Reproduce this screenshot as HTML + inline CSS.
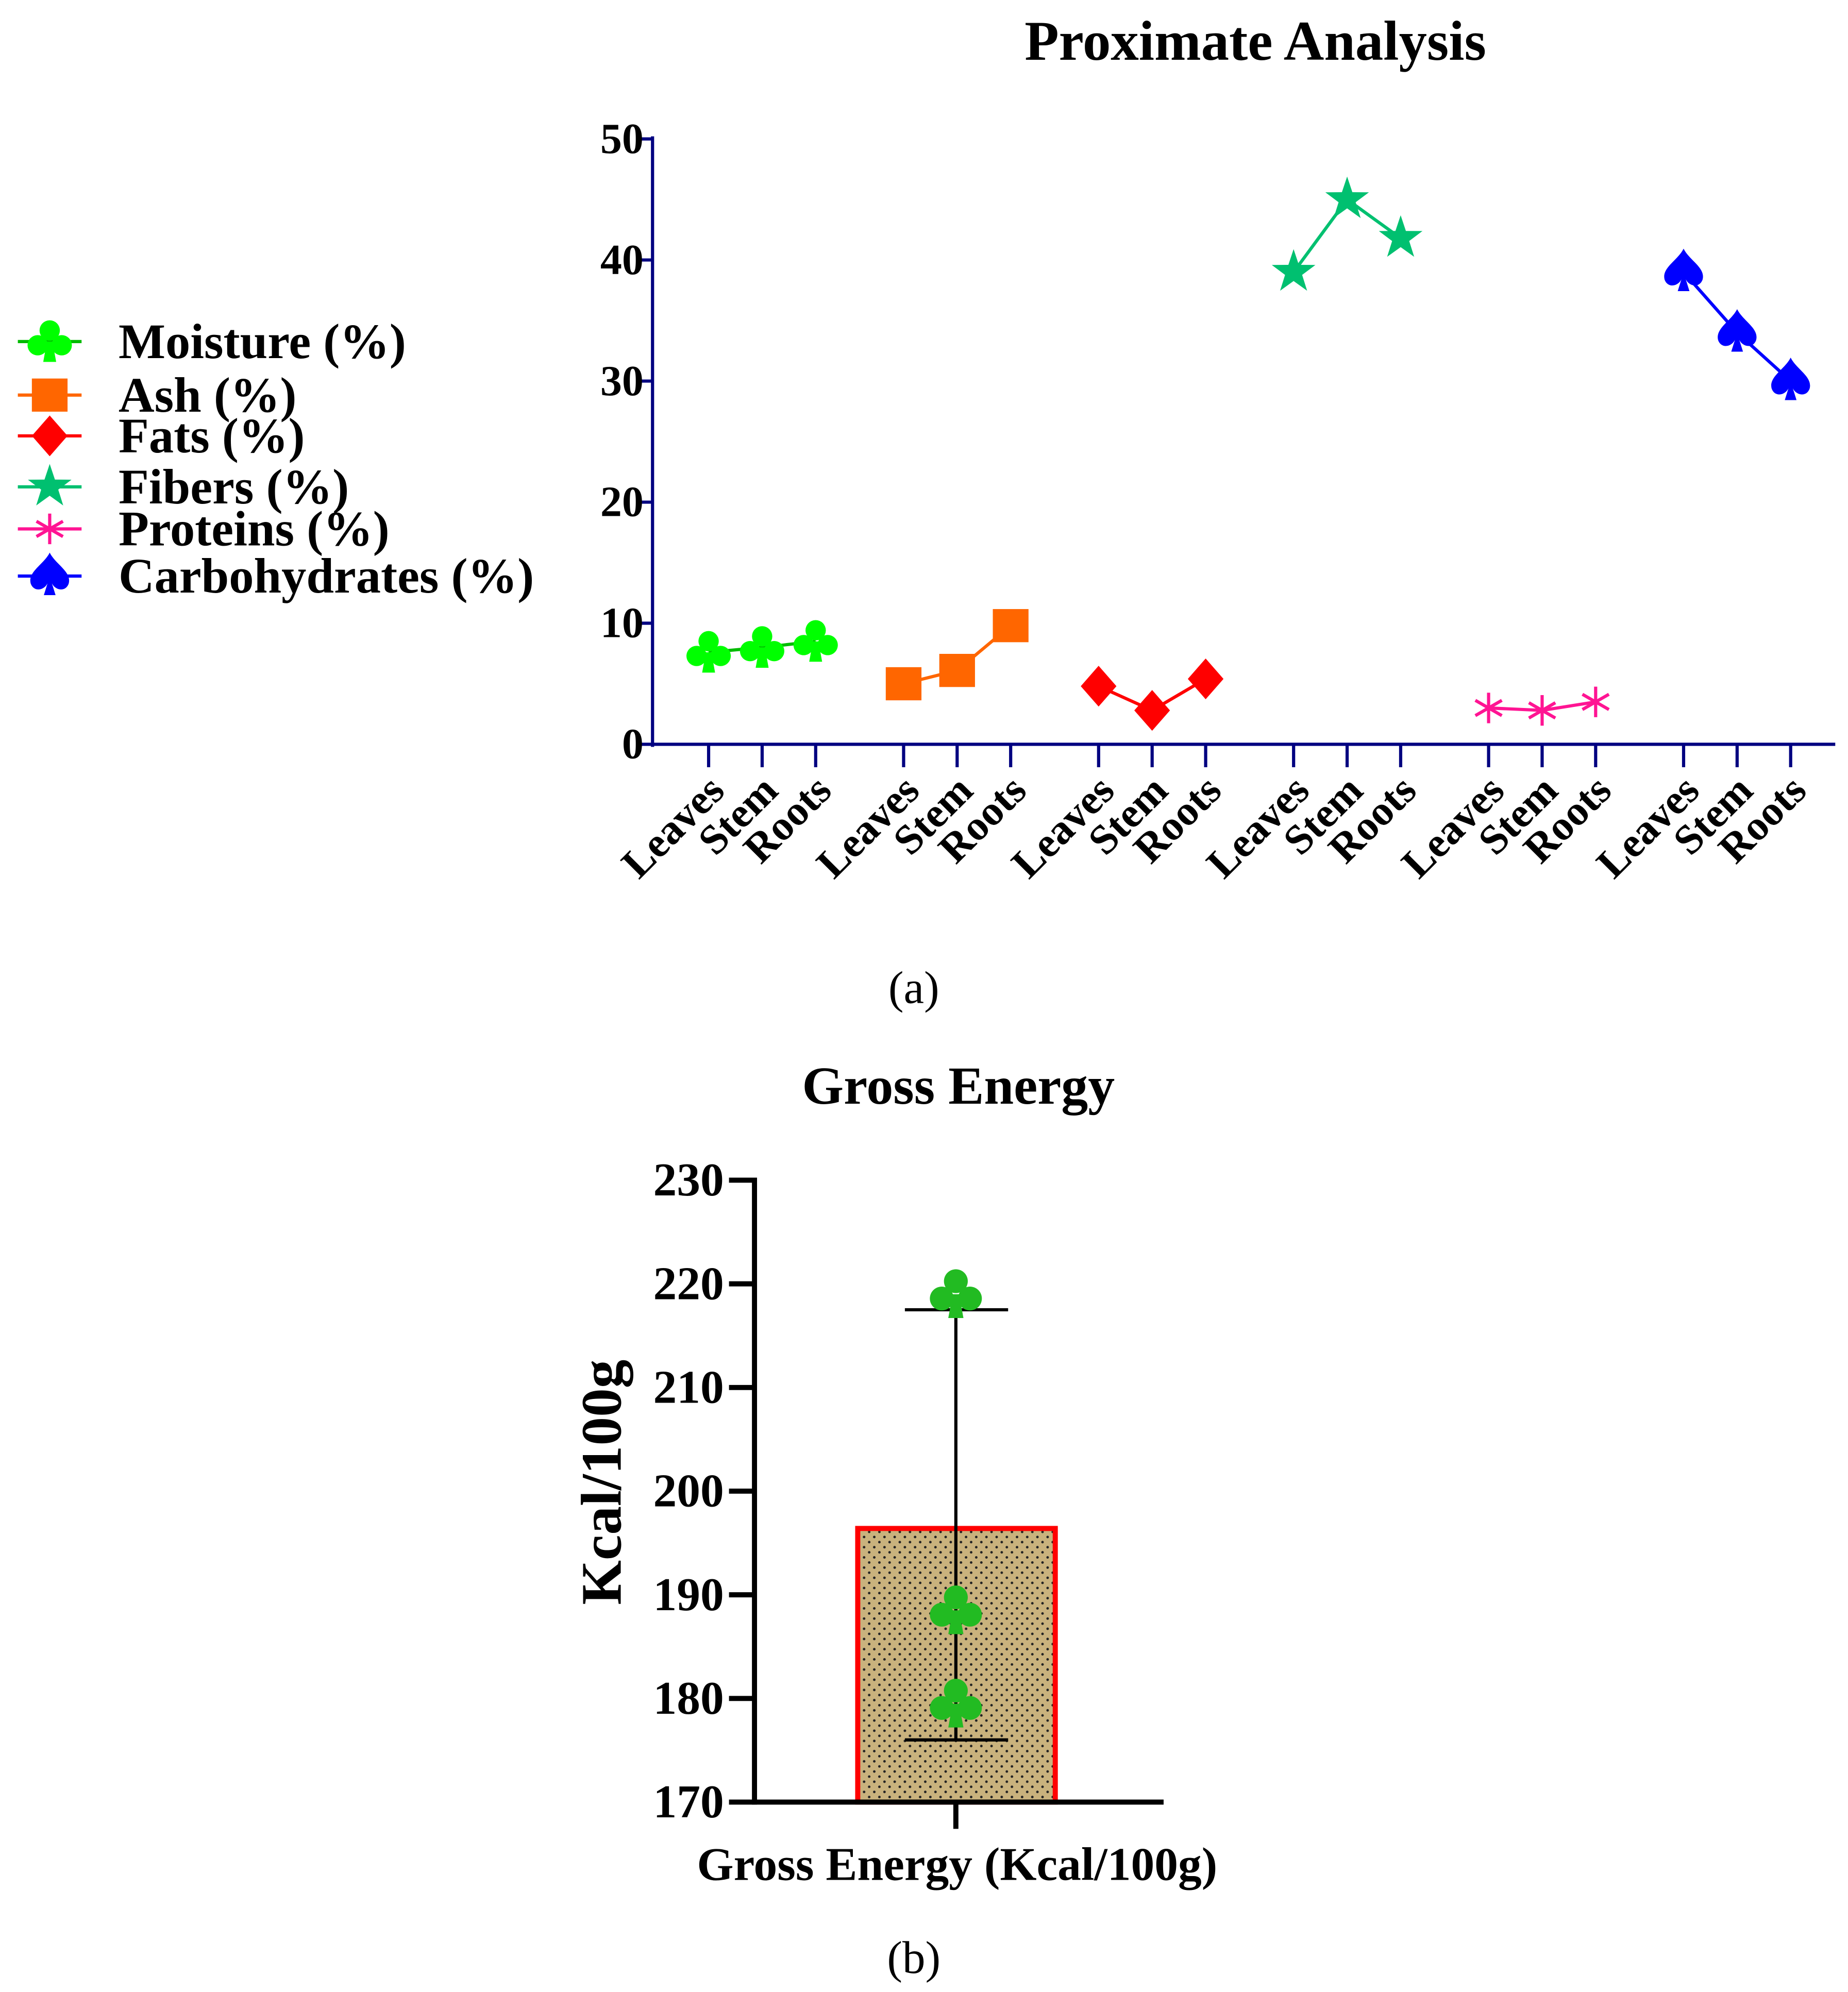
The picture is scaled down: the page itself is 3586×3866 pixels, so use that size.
<!DOCTYPE html>
<html><head><meta charset="utf-8"><style>
html,body{margin:0;padding:0;background:#fff}
svg{display:block}
text{font-family:"Liberation Serif",serif;font-weight:bold;fill:#000}
</style></head><body>
<svg id="root" width="3586" height="3866" viewBox="0 0 1450 1563" preserveAspectRatio="none" xmlns="http://www.w3.org/2000/svg">
<defs>
<pattern id="dots" width="8" height="8" patternUnits="userSpaceOnUse">
<rect width="8" height="8" fill="#c9b27d"/><circle cx="2" cy="2" r="1" fill="#222"/><circle cx="6" cy="6" r="1" fill="#222"/>
</pattern>
</defs>
<g id="topchart"></g>
<g id="botchart"></g>
</svg>
<script>
const parts = ["Leaves","Stem","Roots"];
const seriesNames = ["Moisture (%)","Ash (%)","Fats (%)","Fibers (%)","Proteins (%)","Carbohydrates (%)"];
const moisture = [7.6, 8.0, 8.5];
const ash = [5.0, 6.1, 9.8];
const fats = [4.8, 2.8, 5.4];
const fibers = [39.0, 45.0, 41.8];
const proteins = [3.0, 2.8, 3.5];
const carbs = [39.0, 34.0, 30.0];
const yTicks = [0,10,20,30,40,50];
const energyTicks = [170,180,190,200,210,220,230];
const energyMean = 196.4;
const energyMax = 217.5;
const energyMin = 176.0;
const energyPoints = [219.0, 188.5, 179.5];

const NS="http://www.w3.org/2000/svg";
function mk(tag,attrs,parent){const e=document.createElementNS(NS,tag);for(const k in attrs)e.setAttribute(k,attrs[k]);parent.appendChild(e);return e;}
const topG=document.getElementById('topchart'), botG=document.getElementById('botchart');

const yT=v=>584-v*9.5;
const xT=(g,i)=>556+g*153+i*42;
const colors=["#00ff00","#ff6600","#ff0000","#00c070","#ff1493","#0000ff"];
const lineColors=["#00bb00","#ff6600","#ff0000","#00c070","#ff1493","#0000ff"];
const shapes=["club","square","diamond","star","asterisk","spade"];
const scales=[1.45,1,1,1,1,1.15];
const data=[moisture,ash,fats,fibers,proteins,carbs];

function marker(shape,cx,cy,s,color,parent){
  const g=mk('g',{},parent);
  if(shape==="club"){
    mk('circle',{cx:cx,cy:cy-6*s,r:5.5*s,fill:color},g);
    mk('circle',{cx:cx-6.5*s,cy:cy+2*s,r:5.5*s,fill:color},g);
    mk('circle',{cx:cx+6.5*s,cy:cy+2*s,r:5.5*s,fill:color},g);
    mk('path',{d:`M${cx-1.5*s},${cy} L${cx+1.5*s},${cy} L${cx+3.5*s},${cy+11*s} L${cx-3.5*s},${cy+11*s}Z`,fill:color},g);
  } else if(shape==="square"){
    mk('rect',{x:cx-14*s,y:cy-13*s,width:28*s,height:26*s,fill:color},g);
  } else if(shape==="diamond"){
    mk('path',{d:`M${cx},${cy-16*s} L${cx+14*s},${cy} L${cx},${cy+16*s} L${cx-14*s},${cy}Z`,fill:color},g);
  } else if(shape==="star"){
    let p="";for(let k=0;k<10;k++){const r=k%2?7*s:18*s;const a=-Math.PI/2+k*Math.PI/5;p+=(k?"L":"M")+(cx+r*Math.cos(a)).toFixed(1)+","+(cy+r*Math.sin(a)).toFixed(1);}
    mk('path',{d:p+"Z",fill:color},g);
  } else if(shape==="asterisk"){
    for(let k=0;k<3;k++){const a=Math.PI/2+k*Math.PI/3;const r=12*s;
      mk('line',{x1:cx-r*Math.cos(a),y1:cy-r*Math.sin(a),x2:cx+r*Math.cos(a),y2:cy+r*Math.sin(a),stroke:color,'stroke-width':2.5*s},g);}
  } else if(shape==="spade"){
    mk('path',{d:`M${cx},${cy-16*s} C${cx+4*s},${cy-8*s} ${cx+15*s},${cy-3*s} ${cx+13*s},${cy+5*s} C${cx+11*s},${cy+11*s} ${cx+4*s},${cy+10*s} ${cx+1.5*s},${cy+5*s} L${cx+4*s},${cy+13*s} L${cx-4*s},${cy+13*s} L${cx-1.5*s},${cy+5*s} C${cx-4*s},${cy+10*s} ${cx-11*s},${cy+11*s} ${cx-13*s},${cy+5*s} C${cx-15*s},${cy-3*s} ${cx-4*s},${cy-8*s} ${cx},${cy-16*s}Z`,fill:color},g);
  }
  return g;
}

const title=mk('text',{x:985,y:47,'text-anchor':'middle','font-size':44},topG);title.textContent="Proximate Analysis";


const yAx=mk('line',{x1:512,y1:107,x2:512,y2:586,stroke:'#000080','stroke-width':2.5},topG);


const xAx=mk('line',{x1:511,y1:584,x2:1440,y2:584,stroke:'#000080','stroke-width':2.5},topG);


yTicks.forEach(v=>{
  mk('line',{x1:500,y1:yT(v),x2:512,y2:yT(v),stroke:'#000080','stroke-width':2.5},topG);
  const t=mk('text',{x:505,y:yT(v)+11,'text-anchor':'end','font-size':34},topG);t.textContent=v;
  
  
});
for(let g=0;g<6;g++){for(let i=0;i<3;i++){
  const x=xT(g,i);
  mk('line',{x1:x,y1:584,x2:x,y2:602,stroke:'#000080','stroke-width':2.5},topG);
  const t=mk('text',{x:x+14,y:622,'text-anchor':'end','font-size':33,transform:`rotate(-45 ${x+14} 622)`},topG);t.textContent=parts[i];
  
  
}}
data.forEach((vals,g)=>{
  const pts=vals.map((v,i)=>xT(g,i)+","+yT(v)).join(" ");
  const pl=mk('polyline',{points:pts,fill:'none',stroke:lineColors[g],'stroke-width':2.5},topG);
  
  
  vals.forEach((v,i)=>{
    const m=marker(shapes[g],xT(g,i),yT(v),scales[g],colors[g],topG);
    
    
  });
});
const legY=[268,310,342,382,415,452];
seriesNames.forEach((n,k)=>{
  const g=mk('g',{},topG);
  
  
  mk('line',{x1:14,y1:legY[k],x2:64,y2:legY[k],stroke:lineColors[k],'stroke-width':2.5},g);
  marker(shapes[k],39,legY[k],scales[k],colors[k],g);
  const t=mk('text',{x:93,y:legY[k]+13,'font-size':39},g);t.textContent=n;
});
const la=mk('text',{x:717,y:787,'text-anchor':'middle','font-size':36,style:'font-weight:normal'},topG);la.textContent="(a)";



const yB=v=>1414-(v-170)*8.133;
const t2=mk('text',{x:752,y:866,'text-anchor':'middle','font-size':42},botG);t2.textContent="Gross Energy";


const bar=mk('rect',{x:673,y:yB(energyMean),width:155,height:yB(170)-yB(energyMean),fill:'url(#dots)',stroke:'#ff0000','stroke-width':4},botG);


const eb=mk('g',{stroke:'#000','stroke-width':2.5},botG);


mk('line',{x1:750,y1:yB(energyMax),x2:750,y2:yB(energyMin)},eb);
mk('line',{x1:710,y1:yB(energyMax),x2:791,y2:yB(energyMax)},eb);
mk('line',{x1:710,y1:yB(energyMin),x2:791,y2:yB(energyMin)},eb);
energyPoints.forEach(v=>{
  const m=marker('club',750,yB(v),1.7,'#22bb22',botG);
  
  
});
const by=mk('line',{x1:592,y1:924,x2:592,y2:1416,stroke:'#000','stroke-width':4},botG);


const bx=mk('line',{x1:590,y1:1414,x2:913,y2:1414,stroke:'#000','stroke-width':4},botG);


mk('line',{x1:750,y1:1414,x2:750,y2:1435,stroke:'#000','stroke-width':4},botG);
energyTicks.forEach(v=>{
  mk('line',{x1:572,y1:yB(v),x2:592,y2:yB(v),stroke:'#000','stroke-width':4},botG);
  const t=mk('text',{x:568,y:yB(v)+12,'text-anchor':'end','font-size':37},botG);t.textContent=v;
  
  
});
const xl=mk('text',{x:751,y:1475,'text-anchor':'middle','font-size':37},botG);xl.textContent="Gross Energy (Kcal/100g)";


const yl=mk('text',{x:0,y:0,'text-anchor':'middle','font-size':45,transform:'translate(487 1163) rotate(-90)'},botG);yl.textContent="Kcal/100g";


const lb=mk('text',{x:717,y:1548,'text-anchor':'middle','font-size':36,style:'font-weight:normal'},botG);lb.textContent="(b)";


</script>
</body></html>
